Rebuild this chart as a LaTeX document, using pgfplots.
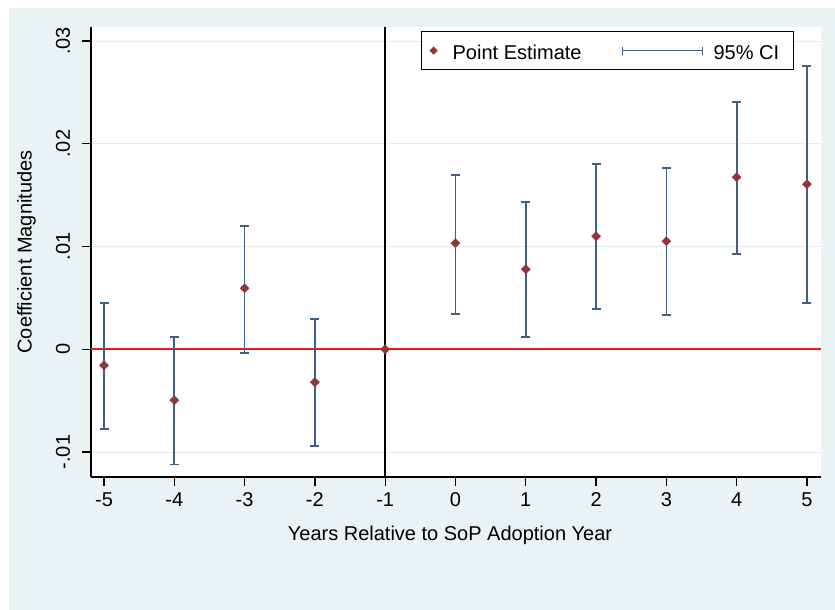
\documentclass[border=0pt]{standalone}
\usepackage{pgfplots}
\pgfplotsset{compat=1.18}
\usepackage{pgfplotstable}
\usepackage{fontspec}
\setmainfont{Liberation Sans}
\definecolor{bgcol}{RGB}{234,242,243}
\definecolor{gridcol}{RGB}{226,237,241}
\definecolor{cranberry}{RGB}{144,53,59}
\definecolor{cinavy}{RGB}{62,96,130}
\definecolor{zeroline}{RGB}{235,22,22}

\pgfplotstableread{
x est
-5 -0.00156
-4 -0.00496
-3 0.00594
-2 -0.00320
-1 0.00000
0 0.01032
1 0.00779
2 0.01100
3 0.01051
4 0.01674
5 0.01606
}\esttable

\pgfplotstableread{
x est lo hi
-5 -0.00156 -0.00779 0.00448
-4 -0.00496 -0.01120 0.00117
-3 0.00594 -0.00039 0.01197
-2 -0.00320 -0.00944 0.00292
0 0.01032 0.00341 0.01693
1 0.00779 0.00117 0.01431
2 0.01100 0.00389 0.01800
3 0.01051 0.00331 0.01762
4 0.01674 0.00925 0.02404
5 0.01606 0.00448 0.02754
}\citable

\begin{document}
\fontsize{20}{24}\selectfont
\begin{tikzpicture}
\useasboundingbox (-91pt,-133pt) rectangle (744pt,477pt);
\fill[bgcol] (-82pt,-133pt) rectangle (744pt,469pt);
\begin{axis}[
  scale only axis,
  width=730pt, height=450pt,
  xmin=-5.185, xmax=5.2,
  ymin=-0.01243, ymax=0.03136,
  axis background/.style={fill=white},
  axis x line*=bottom, axis y line*=left,
  axis line style={black, line width=1.3pt},
  tick align=outside,
  major tick length=9pt,
  tick style={black, line width=1.3pt},
  xtick={-5,-4,-3,-2,-1,0,1,2,3,4,5},
  xticklabels={-5,-4,-3,-2,-1,0,1,2,3,4,5},
  ytick={-0.01,0,0.01,0.02,0.03},
  yticklabels={-.01,0,.01,.02,.03},
  scaled y ticks=false,
  ymajorgrids, grid style={gridcol, line width=0.9pt},
  ticklabel style={font=\fontsize{20}{24}\selectfont},
  yticklabel style={rotate=90, anchor=south},
  yticklabel shift=5pt,
  label style={font=\fontsize{20}{24}\selectfont},
  xlabel={Years Relative to SoP Adoption Year},
  ylabel={Coefficient Magnitudes},
  every axis x label/.style={at={(axis description cs:0.4918,-0.1422)}, anchor=base},
  every axis y label/.style={at={(axis description cs:-0.0815,0.5)}, rotate=90, anchor=base},
  legend columns=2,
  legend style={at={(axis description cs:0.4521,0.9911)}, anchor=north west,
    draw=black, line width=1.2pt, fill=white,
    font=\fontsize{20}{24}\selectfont,
    inner xsep=0pt, inner ysep=10pt,
    column sep=0pt,
    nodes={inner sep=0pt, text height=18pt, text depth=0pt}},
]
\addplot[forget plot, draw=zeroline, line width=1.8pt, mark=none] coordinates {(-5.185,0) (5.2,0)};
\addplot[forget plot, draw=black, line width=1.4pt, mark=none] coordinates {(-1,-0.01243) (-1,0.03136)};

\addlegendimage{legend image code/.code={\path[draw=none,fill=none] (-12pt,0pt) -- (19pt,0pt); \fill[cranberry] (0pt,3.3pt)--(3.3pt,0pt)--(0pt,-3.3pt)--(-3.3pt,0pt)--cycle;}}
\addlegendentry{Point Estimate}
\addlegendimage{legend image code/.code={\path[draw=none,fill=none] (-41pt,0pt) -- (91pt,0pt); \draw[cinavy, line width=1.3pt] (0pt,0pt)--(80pt,0pt); \draw[cinavy, line width=1.3pt] (0pt,-4pt)--(0pt,4pt); \draw[cinavy, line width=1.3pt] (80pt,-4pt)--(80pt,4pt);}}
\addlegendentry{95\% CI\rule{14pt}{0pt}}

\addplot[forget plot, draw=none, mark=none,
  error bars/.cd, y dir=both, y explicit,
  error bar style={cinavy, line width=1.7pt},
  error mark options={cinavy, line width=1.7pt, mark size=4.5pt, rotate=90}]
  table[x=x, y=est, y error plus expr=\thisrow{hi}-\thisrow{est}, y error minus expr=\thisrow{est}-\thisrow{lo}] {\citable};

\addplot[forget plot, only marks, mark=square*, mark size=3.2pt,
  mark options={rotate=45, fill=cranberry, draw=cranberry, line width=0.4pt}]
  table[x=x, y=est] {\esttable};
\end{axis}
\end{tikzpicture}
\end{document}
